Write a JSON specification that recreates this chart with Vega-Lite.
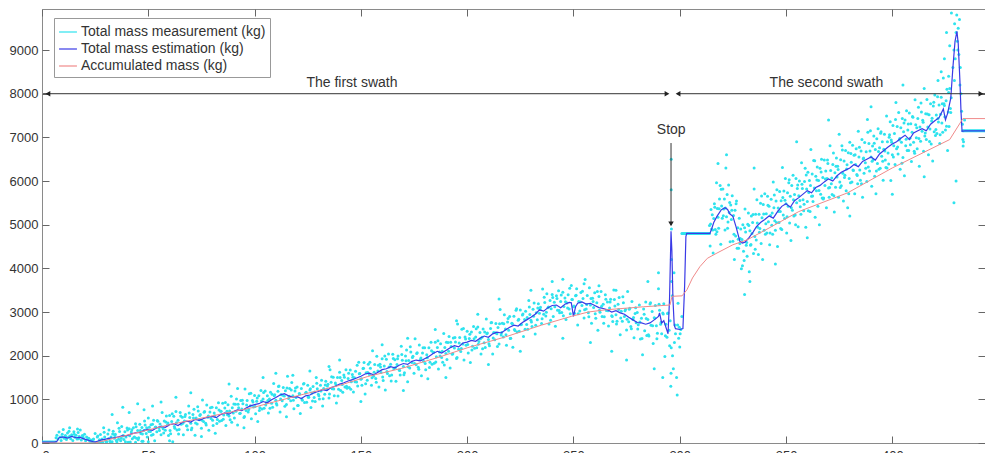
{
"$schema": "https://vega.github.io/schema/vega-lite/v6.json",
"width": 943, "height": 434,
"autosize": {"type": "none"},
"padding": {"left": 42, "top": 9, "right": 0, "bottom": 10},
"background": "white",
"config": {"font": "Liberation Sans", "view": {"stroke": "#8a8a8a", "strokeWidth": 1}},
"resolve": {"axis": {"x": "independent", "y": "independent"}, "legend": {"color": "independent"}},
"encoding": {
  "x": {"field": "x", "type": "quantitative", "scale": {"domain": [0, 443.6], "nice": false, "zero": false}, "axis": null},
  "y": {"field": "y", "type": "quantitative", "scale": {"domain": [0, 9940], "nice": false, "zero": false}, "axis": null}
},
"layer": [
{
  "data": {"values": "x,y\n0,25\n0.5,25\n1,25\n1.5,25\n2,25\n2.5,25\n3,25\n3.5,25\n4,25\n4.5,25\n5,25\n5.5,25\n6,25\n6.5,25\n6.6,120\n7,180\n7.5,90\n8,250\n8.5,140\n9,60\n9.2,140\n9.5,200\n10,310\n10.5,110\n11,170\n11.2,130\n11.5,80\n12,230\n12.5,140\n12.7,270\n13,350\n13.2,160\n13.5,100\n14,190\n14.5,60\n15,260\n15.2,200\n15.5,130\n16,180\n16.5,90\n16.7,320\n17,240\n17.2,100\n17.5,150\n18,300\n18.5,70\n19,170\n19.2,150\n19.5,110\n20,200\n20.5,50\n21,140\n21.5,90\n22,110\n22.5,40\n23,70\n23.5,20\n24,75\n24.5,10\n25,220\n25.5,10\n26,140\n26.5,20\n27,75\n27.5,195\n28,5\n28.5,15\n29,350\n29.5,140\n30,45\n30.5,30\n31,205\n31.5,295\n32,40\n32.5,140\n33,30\n33.5,270\n34,110\n34.5,200\n35,60\n35.5,465\n36,85\n36.5,265\n37,50\n37.5,380\n38,160\n38.5,80\n39,260\n39.5,140\n40,345\n40.5,15\n41,325\n41.5,25\n42,250\n42.5,100\n43,350\n43.5,140\n44,440\n44.5,110\n45,285\n45.5,120\n46,430\n46.5,220\n47,355\n47.5,40\n48,290\n48.5,410\n49,215\n49.5,140\n50,570\n50.5,360\n51,265\n51.5,175\n52,430\n52.5,520\n53,50\n53.5,365\n54,260\n54.5,500\n55,345\n55.5,435\n56,190\n56.5,700\n57,325\n57.5,505\n58,290\n58.5,620\n59,410\n59.5,170\n60,630\n60.5,210\n61,490\n61.5,30\n62,610\n62.5,340\n63,720\n63.5,300\n64,520\n64.5,310\n65,700\n65.5,430\n66,590\n66.5,190\n67,505\n67.5,655\n68,395\n68.5,305\n69,845\n69.5,585\n70,455\n70.5,345\n71,655\n71.5,775\n72,175\n72.5,575\n73,435\n73.5,735\n74,535\n74.5,655\n75,335\n75.5,985\n76,490\n76.5,720\n77,450\n77.5,870\n78,590\n78.5,290\n79,710\n79.5,560\n80,820\n80.5,400\n81,685\n81.5,225\n82,810\n82.5,540\n83,920\n83.5,500\n84,725\n84.5,515\n85,910\n85.5,640\n86,800\n86.5,400\n87,725\n87.5,875\n88,620\n88.5,530\n89,1070\n89.5,810\n90,685\n90.5,575\n91,890\n91.5,1010\n92,410\n92.5,810\n93,675\n93.5,975\n94,780\n94.5,900\n95,585\n95.5,1235\n96,745\n96.5,975\n97,710\n97.5,1130\n98,855\n98.5,555\n99,975\n99.5,825\n100,1090\n100.5,670\n101,955\n101.5,495\n102,1080\n102.5,810\n103,1200\n103.5,780\n104,1005\n104.5,795\n105,1190\n105.5,920\n106,1085\n106.5,685\n107,1010\n107.5,1160\n108,910\n108.5,820\n109,1365\n109.5,1105\n110,980\n110.5,870\n111,1185\n111.5,1305\n112,710\n112.5,1110\n113,970\n113.5,1270\n114,1075\n114.5,1195\n115,880\n115.5,1530\n116,1020\n116.5,1250\n117,965\n117.5,1385\n118,1085\n118.5,785\n119,1190\n119.5,1040\n120,1280\n120.5,860\n121,1135\n121.5,675\n122,1250\n122.5,980\n123,1350\n123.5,930\n124,1145\n124.5,935\n125,1320\n125.5,1050\n126,1215\n126.5,815\n127,1145\n127.5,1295\n128,1040\n128.5,950\n129,1500\n129.5,1240\n130,1115\n130.5,1005\n131,1320\n131.5,1440\n132,850\n132.5,1250\n133,1115\n133.5,1415\n134,1225\n134.5,1345\n135,1030\n135.5,1680\n136,1390\n136.5,1240\n137,1505\n137.5,1085\n138,1375\n138.5,915\n139,1500\n139.5,1230\n140,1620\n140.5,1200\n141,1430\n141.5,1160\n142,1555\n142.5,1285\n143,1675\n143.5,1255\n144,1480\n144.5,1270\n145,1670\n145.5,1400\n146,1570\n146.5,1170\n147,1495\n147.5,1645\n148,1395\n148.5,1305\n149,1850\n149.5,1590\n150,1460\n150.5,1320\n151,1705\n151.5,1845\n152,1120\n152.5,1610\n153,1435\n153.5,1805\n154,1570\n154.5,1710\n155,1325\n155.5,2115\n156,1530\n156.5,1800\n157,1475\n157.5,1985\n158,1650\n158.5,1280\n159,1805\n159.5,1615\n160,1930\n160.5,1430\n161,1765\n161.5,1215\n162,1920\n162.5,1590\n163,2040\n163.5,1540\n164,1805\n164.5,1555\n165,2030\n165.5,1700\n166,1905\n166.5,1415\n167,1800\n167.5,1990\n168,1670\n168.5,1560\n169,2215\n169.5,1895\n170,1750\n170.5,1610\n171,1990\n171.5,2130\n172,1400\n172.5,1890\n173,1715\n173.5,2085\n174,1845\n174.5,1985\n175,1595\n175.5,2385\n176,1795\n176.5,2065\n177,1735\n177.5,2245\n178,1910\n178.5,1540\n179,2060\n179.5,1870\n180,2180\n180.5,1680\n181,2020\n181.5,1470\n182,2180\n182.5,1850\n183,2305\n183.5,1805\n184,2075\n184.5,1825\n185,2305\n185.5,1975\n186,2185\n186.5,1695\n187,2085\n187.5,2275\n188,1960\n188.5,1850\n189,2510\n189.5,2190\n190,2050\n190.5,1910\n191,2300\n191.5,2440\n192,1720\n192.5,2210\n193,2035\n193.5,2405\n194,2175\n194.5,2315\n195,1935\n195.5,2725\n196,2145\n196.5,2415\n197,2095\n197.5,2605\n198,2270\n198.5,1900\n199,2430\n199.5,2240\n200,2560\n200.5,2060\n201,2395\n201.5,1845\n202,2545\n202.5,2215\n203,2670\n203.5,2170\n204,2430\n204.5,2180\n205,2655\n205.5,2325\n206,2530\n206.5,2040\n207,2420\n207.5,2610\n208,2295\n208.5,2185\n209,2840\n209.5,2520\n210,2370\n210.5,2230\n211,2620\n211.5,2760\n212,2040\n212.5,2530\n213,2365\n213.5,2735\n214,2505\n214.5,2645\n215,2265\n215.5,3055\n216,2475\n216.5,2745\n217,2425\n217.5,2935\n218,2610\n218.5,2240\n219,2770\n219.5,2580\n220,2900\n220.5,2400\n221,2745\n221.5,2195\n222,2905\n222.5,2575\n223,3040\n223.5,2540\n224,2810\n224.5,2560\n225,3045\n225.5,2715\n226,2930\n226.5,2440\n227,2830\n227.5,3020\n228,2715\n228.5,2605\n229,3265\n229.5,2945\n230,2810\n230.5,2670\n231,3065\n231.5,3205\n232,2495\n232.5,2985\n233,2820\n233.5,3190\n234,2970\n234.5,3110\n235,2735\n235.5,3525\n236,2950\n236.5,3220\n237,2910\n237.5,3420\n238,3095\n238.5,2725\n239,3265\n239.5,3075\n240,3400\n240.5,2900\n241,3225\n241.5,2675\n242,3370\n242.5,3040\n243,3485\n243.5,2985\n244,3240\n244.5,2990\n245,3455\n245.5,3125\n246,3320\n246.5,2830\n247,3205\n247.5,3395\n248,3070\n248.5,2960\n249,3605\n249.5,3285\n250,3120\n250.5,2970\n251,3375\n251.5,3535\n252,2700\n252.5,3240\n253,3025\n253.5,3445\n254,3150\n254.5,3310\n255,2865\n255.5,3745\n256,3070\n256.5,3380\n257,2985\n257.5,3555\n258,3160\n258.5,2740\n259,3315\n259.5,3105\n260,3440\n260.5,2860\n261,3215\n261.5,2585\n262,3355\n262.5,2995\n263,3470\n263.5,2900\n264,3180\n264.5,2890\n265,3395\n265.5,3035\n266,3230\n266.5,2680\n267,3090\n267.5,3290\n268,2915\n268.5,2785\n269,3505\n269.5,3135\n270,2940\n270.5,2790\n271,3175\n271.5,3335\n272,2480\n272.5,3020\n273,2790\n273.5,3210\n274,2895\n274.5,3055\n275,2590\n275.5,3470\n276,2775\n276.5,3085\n277,2670\n277.5,3240\n278,2830\n278.5,2410\n279,2965\n279.5,2755\n280,2990\n280.5,2710\n281,3160\n281.5,2380\n282,2860\n282.5,2020\n283,3070\n283.5,2570\n284,3230\n284.5,2460\n285,2830\n285.5,2450\n286,3185\n286.5,2695\n287,3010\n287.5,2280\n288,2870\n288.5,3150\n289,2685\n289.5,2515\n290,3530\n290.5,3040\n291,2720\n291.5,2500\n292,2980\n292.5,3190\n293,1980\n293.5,2720\n294,2420\n294.5,2980\n295,2580\n295.5,2800\n296,2180\n296.5,3370\n295.8,1300\n295.9,1600\n296,6500\n296,5800\n296.1,4900\n296.1,4200\n296.2,3700\n296.6,2000\n297,1700\n297.5,2300\n298,2500\n298.5,1500\n299,2700\n299.5,2400\n300,2200\n300.5,2600\n298.8,1100\n297.3,3900\n299.2,3200\n301,2900\n300.2,2500\n297.8,2700\n299.8,2650\n33,650\n38,820\n41,700\n45,900\n52,850\n48,760\n56,940\n63,1050\n70,1150\n88,1350\n92,1250\n104,1500\n110,1600\n118,1550\n126,1650\n135,1750\n140,1900\n160,2250\n172,2400\n185,2600\n195,2800\n205,2950\n215,3300\n230,3500\n240,3700\n245,3750\n255,3650\n262,3600\n270,3500\n285,3700\n290,3900\n60,50\n75,150\n95,350\n115,600\n150,950\n170,1200\n190,1500\n210,1800\n225,2100\n245,2400\n258,2300\n268,2100\n275,1900\n288,1700\n292,1500\n44,20\n47,40\n50,30\n301,4800\n301.5,4800\n302,4800\n302.5,4800\n303,4800\n303.5,4800\n304,4800\n304.5,4800\n305,4800\n305.5,4800\n306,4800\n306.5,4800\n307,4800\n307.5,4800\n308,4800\n308.5,4800\n309,4800\n309.5,4800\n310,4800\n310.5,4800\n311,4800\n311.5,4800\n312,4800\n312.5,4800\n313,4800\n313.5,4800\n314,4800\n314,4980\n314.3,4510\n314.7,5350\n315,4900\n315.3,5230\n315.7,4350\n316,5140\n316.3,5480\n316.7,4890\n317,4780\n317.3,5960\n317.7,5370\n318,5170\n318.3,4920\n318.7,5590\n319,5900\n319.3,4550\n319.7,5430\n320,5150\n320.3,5820\n320.7,5360\n321,5590\n321.3,4880\n321.7,6300\n322,5180\n322.3,5690\n322.7,5060\n323,5910\n323.3,5280\n323.7,4610\n324,5450\n324.3,5120\n324.7,5660\n325,4620\n325.3,5210\n325.7,4200\n326,5330\n326.3,4740\n326.7,5540\n327,4460\n327.3,4930\n327.7,4460\n328,5150\n328.3,4570\n328.7,4900\n329,3990\n329.3,4660\n329.7,5000\n330,4390\n330.3,4180\n330.7,5360\n331,4830\n331.3,4530\n331.7,4280\n332,5010\n332.3,5270\n332.7,3920\n333,4860\n333.3,4530\n333.7,5200\n334,4800\n334.3,5050\n334.7,4340\n335,5820\n335.3,4730\n335.7,5240\n336,4650\n336.3,5570\n336.7,4940\n337,4320\n337.3,5240\n337.7,4910\n338,5490\n338.3,4570\n338.7,5160\n339,4200\n339.3,5460\n339.7,4870\n340,5710\n340.3,4780\n340.7,5250\n341,4810\n341.3,5650\n341.7,5070\n342,5420\n342.3,4540\n342.7,5210\n343,5580\n343.3,4990\n343.7,4780\n344,5980\n344.3,5390\n344.7,5090\n345,4870\n345.3,5540\n345.7,5800\n346,4500\n346.3,5380\n346.7,5050\n347,5760\n347.3,5300\n347.7,5550\n348,4890\n348.3,6310\n348.7,5220\n349,5770\n349.3,5140\n349.7,6060\n350,5480\n350.3,4810\n350.7,5730\n351,5420\n351.3,5960\n351.7,5040\n352,5650\n352.3,4640\n352.7,5900\n353,5330\n353.3,6130\n353.7,5200\n354,5690\n354.3,5220\n354.7,6060\n355,5500\n355.3,5830\n355.7,4950\n356,5660\n356.3,6000\n356.7,5410\n357,5240\n357.3,6420\n357.7,5830\n358,5570\n358.3,5320\n358.7,5990\n359,6290\n359.3,4940\n359.7,5820\n360,5530\n360.3,6200\n360.7,5740\n361,6010\n361.3,5300\n361.7,6720\n362,5650\n362.3,6160\n362.7,5530\n363,6470\n363.3,5840\n363.7,5170\n364,6110\n364.3,5780\n364.7,6320\n365,5420\n365.3,6010\n365.7,5000\n366,6290\n366.3,5700\n366.7,6500\n367,5610\n367.3,6080\n367.7,5610\n368,6480\n368.3,5900\n368.7,6230\n369,5390\n369.3,6060\n369.7,6400\n370,5840\n370.3,5630\n370.7,6810\n371,6240\n371.3,5940\n371.7,5690\n372,6380\n372.3,6640\n372.7,5290\n373,6190\n373.3,5860\n373.7,6530\n374,6090\n374.3,6340\n374.7,5630\n375,7070\n375.3,5980\n375.7,6490\n376,5890\n376.3,6810\n376.7,6180\n377,5540\n377.3,6460\n377.7,6130\n378,6700\n378.3,5780\n378.7,6370\n379,5390\n379.3,6650\n379.7,6060\n380,6890\n380.3,5960\n380.7,6430\n381,5980\n381.3,6820\n381.7,6240\n382,6590\n382.3,5710\n382.7,6380\n383,6740\n383.3,6150\n383.7,5940\n384,7140\n384.3,6550\n384.7,6250\n385,6020\n385.3,6690\n385.7,6950\n386,5630\n386.3,6510\n386.7,6180\n387,6880\n387.3,6420\n387.7,6670\n388,5990\n388.3,7410\n388.7,6320\n389,6860\n389.3,6230\n389.7,7150\n390,6550\n390.3,5880\n390.7,6800\n391,6490\n391.3,7030\n391.7,6110\n392,6720\n392.3,5710\n392.7,6970\n393,6400\n393.3,7200\n393.7,6270\n394,6760\n394.3,6290\n394.7,7130\n395,6570\n395.3,6900\n395.7,6020\n396,6730\n396.3,7070\n396.7,6480\n397,6310\n397.3,7490\n397.7,6900\n398,6640\n398.3,6390\n398.7,7060\n399,7360\n399.3,6010\n399.7,6890\n400,6600\n400.3,7270\n400.7,6810\n401,7090\n401.3,6380\n401.7,7800\n402,6740\n402.3,7250\n402.7,6620\n403,7570\n403.3,6940\n403.7,6270\n404,7220\n404.3,6890\n404.7,7430\n405,6540\n405.3,7130\n405.7,6120\n406,7400\n406.3,6810\n406.7,7610\n407,6700\n407.3,7170\n407.7,6700\n408,7560\n408.3,6980\n408.7,7310\n409,6450\n409.3,7120\n409.7,7460\n410,6890\n410.3,6680\n410.7,7860\n411,7290\n411.3,6990\n411.7,6740\n412,7430\n412.3,7690\n412.7,6340\n413,7240\n413.3,6910\n413.7,7580\n414,7140\n414.3,7390\n414.7,6680\n415,8120\n415.3,7030\n415.7,7540\n416,6950\n416.3,7870\n416.7,7240\n417,6600\n417.3,7520\n417.7,7190\n418,7770\n418.3,6850\n418.7,7440\n419,6460\n419.3,7720\n419.7,7130\n420,7970\n420.3,7040\n420.7,7510\n421,7090\n421.3,7930\n421.7,7350\n422,7740\n422.3,6860\n422.7,7530\n423,7920\n423.3,7330\n423.7,7120\n424,8360\n424.3,7770\n424.7,7470\n425,7170\n425.3,7840\n425.7,8100\n426,6700\n426.3,7580\n426.7,7250\n427,8120\n427.3,7660\n427.7,7910\n428.5,8600\n429,9000\n429.3,9600\n429.6,8800\n430,9400\n430.3,9800\n430.6,9200\n431,9500\n431.3,8900\n431.6,9700\n432,8600\n432.3,8000\n432.6,7600\n433,7300\n429.2,8300\n430.8,9000\n431.8,8200\n424.5,8800\n425.5,9400\n427.8,9850\n426.5,8400\n423,8500\n421.5,8300\n427,9100\n330.5,3400\n333,3700\n345,4100\n360,4700\n380,5200\n400,5700\n415,6100\n429,5500\n430,6000\n318,6400\n322,6600\n335,6300\n355,6900\n370,7400\n390,7700\n405,8200\n433.5,6900\n434,7400\n433.2,6950\n433.3,6800\n433.2,7150\n433.5,7150\n434,7150\n434.5,7150\n435,7150\n435.5,7150\n436,7150\n436.5,7150\n437,7150\n437.5,7150\n438,7150\n438.5,7150\n439,7150\n439.5,7150\n440,7150\n440.5,7150\n441,7150\n441.5,7150\n442,7150\n442.5,7150\n443,7150\n443.5,7150\n24.25,90\n25.25,10\n26.25,158\n27.25,15\n28.25,94\n29.25,248\n30.25,18\n31.25,100\n32.25,20\n33.25,204\n34.25,173\n35.25,27\n36.25,337\n37.25,107\n38.25,172\n39.25,30\n40.25,300\n41.25,166\n42.25,301\n43.25,131\n44.25,374\n45.25,72\n46.25,286\n47.25,205\n48.25,503\n49.25,350\n50.25,264\n51.25,418\n52.25,193\n53.25,359\n54.25,518\n55.25,288\n56.25,370\n57.25,229\n58.25,479\n59.25,458\n60.25,285\n61.25,670\n62.25,380\n63.25,465\n64.25,205\n65.25,620\n66.25,450\n67.25,605\n68.25,390\n69.25,685\n70.25,305\n71.25,570\n72.25,460\n73.25,830\n74.25,630\n75.25,520\n76.25,705\n77.25,415\n78.25,620\n79.25,810\n80.25,520\n81.25,625\n82.25,445\n83.25,755\n84.25,725\n85.25,545\n86.25,930\n87.25,645\n88.25,735\n89.25,475\n90.25,895\n91.25,730\n92.25,890\n93.25,680\n94.25,980\n95.25,605\n96.25,870\n97.25,765\n98.25,1140\n99.25,940\n100.25,835\n101.25,1030\n102.25,745\n103.25,960\n104.25,1155\n105.25,870\n106.25,975\n107.25,795\n108.25,1115\n109.25,1085\n110.25,905\n111.25,1295\n112.25,1010\n113.25,1095\n114.25,840\n115.25,1260\n116.25,1070\n117.25,1215\n118.25,980\n119.25,1260\n120.25,860\n121.25,1120\n122.25,1005\n123.25,1365\n124.25,1160\n125.25,1045\n126.25,1240\n127.25,960\n128.25,1170\n129.25,1370\n130.25,1085\n131.25,1190\n132.25,1015\n133.25,1330\n134.25,1305\n135.25,1125\n136.25,1520\n137.25,1235\n138.25,1330\n139.25,1075\n140.25,1500\n141.25,1340\n142.25,1505\n143.25,1300\n144.25,1600\n145.25,1230\n146.25,1505\n147.25,1400\n148.25,1780\n149.25,1585\n150.25,1474\n151.25,1712\n152.25,1356\n153.25,1612\n154.25,1849\n155.25,1494\n156.25,1620\n157.25,1394\n158.25,1780\n159.25,1739\n160.25,1513\n161.25,1991\n162.25,1636\n163.25,1739\n164.25,1420\n165.25,1935\n166.25,1728\n167.25,1928\n168.25,1660\n169.25,2027\n170.25,1561\n171.25,1886\n172.25,1747\n173.25,2207\n174.25,1958\n175.25,1819\n176.25,2052\n177.25,1691\n178.25,1947\n179.25,2179\n180.25,1819\n181.25,1950\n182.25,1729\n183.25,2115\n184.25,2079\n185.25,1858\n186.25,2341\n187.25,1991\n188.25,2099\n189.25,1785\n190.25,2305\n191.25,2103\n192.25,2308\n193.25,2045\n194.25,2417\n195.25,1956\n196.25,2291\n197.25,2162\n198.25,2622\n199.25,2383\n200.25,2254\n201.25,2492\n202.25,2131\n203.25,2387\n204.25,2619\n205.25,2264\n206.25,2390\n207.25,2159\n208.25,2545\n209.25,2504\n210.25,2273\n211.25,2756\n212.25,2406\n213.25,2524\n214.25,2210\n215.25,2730\n216.25,2528\n217.25,2733\n218.25,2480\n219.25,2852\n220.25,2391\n221.25,2731\n222.25,2602\n223.25,3072\n224.25,2833\n225.25,2709\n226.25,2957\n227.25,2606\n228.25,2872\n229.25,3114\n230.25,2769\n231.25,2905\n232.25,2694\n233.25,3090\n234.25,3064\n235.25,2848\n236.25,3336\n237.25,2996\n238.25,3114\n239.25,2810\n240.25,3335\n241.25,3118\n242.25,3308\n243.25,3035\n244.25,3392\n245.25,2916\n246.25,3236\n247.25,3092\n248.25,3542\n249.25,3288\n250.25,3137\n251.25,3384\n252.25,2959\n253.25,3227\n254.25,3474\n255.25,3049\n256.25,3170\n257.25,2892\n258.25,3307\n259.25,3239\n260.25,2961\n261.25,3471\n262.25,3041\n263.25,3131\n264.25,2743\n265.25,3295\n266.25,3028\n267.25,3228\n268.25,2898\n269.25,3287\n270.25,2726\n271.25,3058\n272.25,2865\n273.25,3349\n274.25,3030\n275.25,2837\n276.25,3064\n277.25,2619\n278.25,2872\n279.25,3099\n280.25,2612\n281.25,2770\n282.25,2396\n283.25,2946\n284.25,2852\n285.25,2478\n286.25,3213\n287.25,2688\n288.25,2858\n289.25,2389\n290.25,3180\n291.25,2764\n292.25,2954\n293.25,2454\n294.25,2966\n295.25,2228\n314.5,5015\n315.5,4881\n316.5,5397\n317.5,4837\n318.5,5366\n319.5,5812\n320.5,5202\n321.5,5380\n322.5,4921\n323.5,5511\n324.5,5332\n325.5,4783\n326.5,5478\n327.5,4668\n328.5,4683\n329.5,4059\n330.5,4930\n331.5,4594\n332.5,4984\n333.5,4549\n334.5,5236\n335.5,4438\n336.5,5039\n337.5,4825\n338.5,5657\n339.5,5245\n340.5,5021\n341.5,5447\n342.5,4807\n343.5,5266\n344.5,5682\n345.5,5052\n346.5,5300\n347.5,4911\n348.5,5621\n349.5,5562\n350.5,5183\n351.5,6028\n352.5,5388\n353.5,5573\n354.5,4999\n355.5,5910\n356.5,5554\n357.5,5924\n358.5,5469\n359.5,6136\n360.5,5318\n361.5,5899\n362.5,5655\n363.5,6467\n364.5,6025\n365.5,5781\n366.5,6207\n367.5,5587\n368.5,6046\n369.5,6482\n370.5,5852\n371.5,6070\n372.5,5661\n373.5,6341\n374.5,6262\n375.5,5853\n376.5,6708\n377.5,6078\n378.5,6273\n379.5,5709\n380.5,6630\n381.5,6254\n382.5,6604\n383.5,6129\n384.5,6776\n385.5,5938\n386.5,6529\n387.5,6295\n388.5,7117\n389.5,6685\n390.5,6451\n391.5,6867\n392.5,6227\n393.5,6676\n394.5,7092\n395.5,6452\n396.5,6690\n397.5,6301\n398.5,7001\n399.5,6942\n400.5,6553\n401.5,7408\n402.5,6778\n403.5,6973\n404.5,6409\n405.5,7330\n406.5,6954\n407.5,7304\n408.5,6829\n409.5,7476\n410.5,6638\n411.5,7219\n412.5,6975\n413.5,7787\n414.5,7345\n415.5,7101\n416.5,7537\n417.5,6907\n418.5,7376\n419.5,7802\n420.5,7182\n421.5,7430\n422.5,7061\n423.5,7771\n424.5,7732\n425.5,7253\n426.5,8028\n427.5,7568", "format": {"type": "csv", "parse": {"x": "number", "y": "number"}}},
  "mark": {"type": "point", "filled": true, "size": 9, "opacity": 1, "clip": true},
  "encoding": {
    "x": {"field": "x", "type": "quantitative", "scale": {"domain": [0, 443.6], "nice": false, "zero": false},
          "axis": {"orient": "bottom", "title": null, "values": [0,50,100,150,200,250,300,350,400], "grid": false, "domain": false, "tickSize": -7, "tickColor": "#666", "labelPadding": 13, "labelFontSize": 13, "labelColor": "#333"}},
    "y": {"field": "y", "type": "quantitative", "scale": {"domain": [0, 9940], "nice": false, "zero": false},
          "axis": {"orient": "left", "title": null, "format": "d", "values": [0,1000,2000,3000,4000,5000,6000,7000,8000,9000], "grid": false, "domain": false, "tickSize": -7, "tickColor": "#666", "labelPadding": 11, "labelFontSize": 13, "labelColor": "#333"}},
    "color": {"datum": "Total mass measurement (kg)", "type": "nominal",
      "scale": {"domain": ["Total mass measurement (kg)", "Total mass estimation (kg)", "Accumulated mass (kg)"], "range": ["#2ee3ee", "#3a3ae6", "#f08a8a"]},
      "legend": null}
  }
},
{
  "data": {"values": "x,y\n0,20\n6,20\n7,40\n8,120\n10,140\n12,110\n14,150\n16,120\n18,130\n20,90\n22,60\n24,30\n25,20\n26,40\n28,70\n30,90\n32,110\n34,120\n36,140\n38,170\n40,170\n42,210\n44,230\n46,240\n48,290\n50,310\n52,290\n54,350\n56,380\n58,360\n60,420\n62,440\n64,400\n66,470\n68,500\n70,480\n72,540\n74,520\n76,560\n78,590\n80,610\n82,580\n84,650\n86,690\n88,660\n90,720\n92,760\n94,740\n96,800\n98,850\n100,880\n102,900\n104,950\n106,920\n108,990\n110,1040\n112,1100\n114,1130\n116,1080\n118,1050\n120,1060\n122,1020\n124,1080\n126,1100\n128,1150\n130,1180\n132,1220\n134,1200\n136,1270\n138,1300\n140,1350\n142,1380\n144,1420\n146,1450\n148,1490\n150,1530\n152,1580\n154,1600\n156,1560\n158,1620\n160,1680\n162,1700\n164,1750\n166,1720\n168,1780\n170,1820\n172,1800\n174,1870\n176,1900\n178,1880\n180,1930\n182,1980\n184,2050\n186,2100\n188,2060\n190,2120\n192,2180\n194,2230\n196,2200\n198,2290\n200,2310\n202,2350\n204,2330\n206,2400\n208,2450\n210,2420\n212,2500\n214,2540\n216,2520\n218,2590\n220,2650\n222,2700\n224,2680\n226,2760\n228,2820\n230,2880\n232,2950\n234,3050\n236,3020\n238,3100\n240,3150\n242,3160\n244,3100\n246,3180\n248,3220\n249,3210\n250,2900\n251,3120\n252,3200\n254,3230\n256,3180\n258,3200\n260,3150\n262,3100\n264,3080\n266,3050\n268,3000\n270,3030\n272,2980\n274,2950\n276,2880\n278,2820\n280,2760\n282,2750\n284,2720\n286,2750\n288,2820\n290,2900\n290.5,2980\n291.5,2750\n292.5,2800\n293.5,2650\n294.5,2500\n295.2,3300\n295.9,4850\n296.3,4400\n296.8,3300\n297.4,2700\n298,2620\n300,2600\n301.5,2620\n302.3,3600\n302.9,4730\n303.3,4800\n314.2,4800\n315,4900\n316,5050\n317.5,5190\n319.5,5340\n321.3,5390\n322.5,5350\n323.5,5250\n325,5190\n326.5,4950\n328.3,4620\n329.5,4580\n330.7,4600\n332.5,4700\n334.5,4830\n336,4950\n338,5050\n340,5120\n342,5200\n344,5150\n346,5300\n348,5420\n350,5480\n352,5400\n354,5550\n356,5620\n358,5700\n360,5780\n362,5730\n364,5850\n366,5900\n368,5980\n370,6050\n372,6000\n374,6120\n376,6200\n378,6250\n380,6300\n382,6380\n384,6330\n386,6450\n388,6500\n390,6550\n392,6480\n394,6620\n396,6700\n398,6780\n400,6850\n402,6900\n404,6980\n406,7050\n408,6950\n410,7100\n412,7150\n414,7200\n416,7150\n418,7300\n420,7380\n422,7450\n424,7650\n425,7400\n426,7550\n427.5,7900\n428.5,8600\n429.5,9200\n430.4,9430\n431,9150\n431.8,8300\n432.3,7600\n432.8,7140\n434,7150\n443.6,7150", "format": {"type": "csv", "parse": {"x": "number", "y": "number"}}},
  "mark": {"type": "line", "strokeWidth": 1.2, "clip": true},
  "encoding": {"color": {"datum": "Total mass estimation (kg)", "type": "nominal",
      "legend": {"orient": "none", "legendX": 12, "legendY": 9, "title": null, "direction": "vertical", "padding": 4, "strokeColor": "#999", "fillColor": "white", "labelFontSize": 14, "labelColor": "#333", "labelOffset": 3, "labelLimit": 400, "symbolType": "stroke", "symbolSize": 320, "symbolStrokeWidth": 1.2, "rowPadding": 0}}}
},
{
  "data": {"values": "x,y\n0,0\n25,0\n40,180\n60,420\n80,620\n99,810\n120,1080\n140,1320\n153,1520\n170,1720\n187,1970\n200,2180\n218,2430\n235,2700\n249,2900\n257,3000\n265,3050\n283,3120\n295.4,3160\n296.4,3360\n301.1,3370\n303.4,3510\n306,3780\n309.5,4040\n313,4230\n317.5,4350\n325,4540\n331.6,4650\n340,4870\n356,5300\n379,5730\n400,6300\n427,6950\n433.2,7430\n443.6,7430", "format": {"type": "csv", "parse": {"x": "number", "y": "number"}}},
  "mark": {"type": "line", "strokeWidth": 1, "clip": true},
  "encoding": {"color": {"datum": "Accumulated mass (kg)", "type": "nominal", "legend": null}}
},
{
  "data": {"values": [
    {"x": 0.5, "x2": 294, "y": 8000, "y2": 8000},
    {"x": 299, "x2": 443.6, "y": 8000, "y2": 8000},
    {"x": 295.9, "x2": 295.9, "y": 6870, "y2": 5000}
  ]},
  "mark": {"type": "rule", "color": "#333", "strokeWidth": 1},
  "encoding": {
    "x": {"field": "x", "type": "quantitative", "scale": {"domain": [0, 443.6], "nice": false, "zero": false},
          "axis": {"orient": "top", "title": null, "labels": false, "values": [0,50,100,150,200,250,300,350,400], "grid": false, "domain": false, "tickSize": -7, "tickColor": "#666"}},
    "y": {"field": "y", "type": "quantitative", "scale": {"domain": [0, 9940], "nice": false, "zero": false},
          "axis": {"orient": "right", "title": null, "labels": false, "values": [0,1000,2000,3000,4000,5000,6000,7000,8000,9000], "grid": false, "domain": false, "tickSize": -7, "tickColor": "#666"}},
    "x2": {"field": "x2"}, "y2": {"field": "y2"}
  }
},
{
  "data": {"values": [
    {"x": 2.8, "y": 8000, "dir": "left"},
    {"x": 294, "y": 8000, "dir": "right"},
    {"x": 299.2, "y": 8000, "dir": "left"},
    {"x": 441.7, "y": 8000, "dir": "right"},
    {"x": 295.9, "y": 5020, "dir": "down"}
  ]},
  "mark": {"type": "point", "filled": true, "size": 30, "color": "#222", "opacity": 1},
  "encoding": {"shape": {"field": "dir", "type": "nominal", "scale": {"domain": ["left", "right", "down"], "range": ["triangle-left", "triangle-right", "triangle-down"]}, "legend": null}}
},
{
  "data": {"values": [
    {"x": 145.8, "y": 8250, "label": "The first swath"},
    {"x": 369, "y": 8250, "label": "The second swath"},
    {"x": 296, "y": 7170, "label": "Stop"}
  ]},
  "mark": {"type": "text", "fontSize": 14, "color": "#333", "align": "center", "baseline": "middle"},
  "encoding": {"text": {"field": "label"}}
}
]
}
